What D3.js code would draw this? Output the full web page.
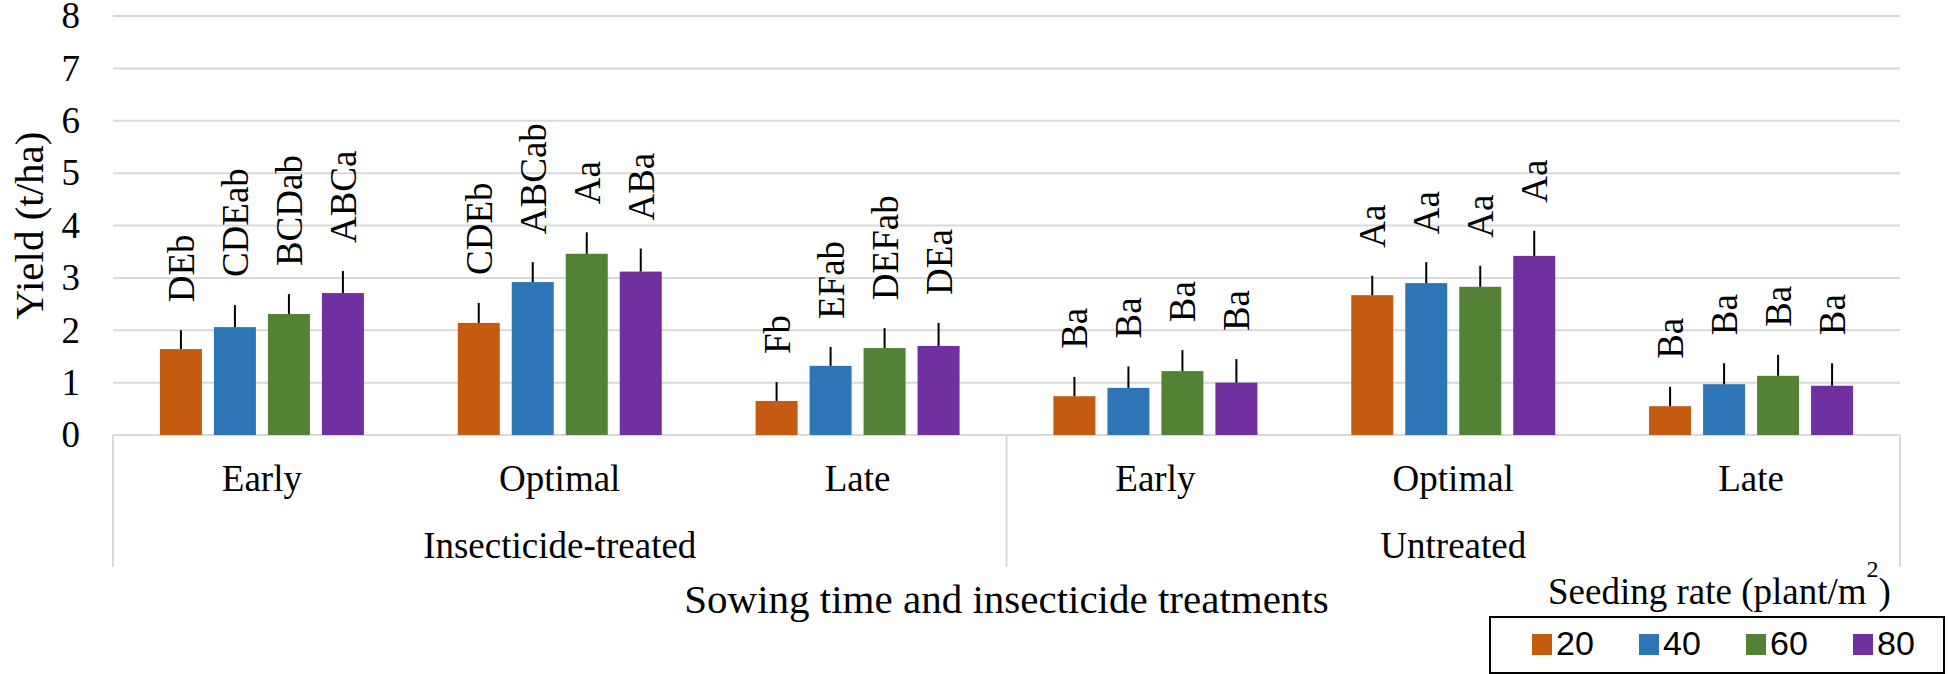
<!DOCTYPE html>
<html>
<head>
<meta charset="utf-8">
<script src="https://cdn.jsdelivr.net/npm/d3@7"></script>
<style>
  body { margin: 0; background: #fff; }
  text { font-family: "Liberation Serif", "Times New Roman", serif; fill: #000; }
</style>
</head>
<body>
<div id="chart"></div>
<script>
'use strict';

// categories: sowing time within insecticide treatment
const sowing = ["Early", "Optimal", "Late", "Early", "Optimal", "Late"];
const treatments = ["Insecticide-treated", "Untreated"];
const rates = ["20", "40", "60", "80"];
const yTicks = [0, 1, 2, 3, 4, 5, 6, 7, 8];

// mean yield (t/ha) per seeding rate, one value per category
const yield20 = [1.64, 2.14, 0.65, 0.74, 2.67, 0.55];
const yield40 = [2.06, 2.92, 1.32, 0.90, 2.90, 0.97];
const yield60 = [2.31, 3.46, 1.66, 1.22, 2.83, 1.13];
const yield80 = [2.71, 3.12, 1.70, 1.00, 3.42, 0.94];

// upper error bar length
const err20 = [0.36, 0.38, 0.36, 0.37, 0.37, 0.37];
const err40 = [0.42, 0.38, 0.36, 0.41, 0.40, 0.40];
const err60 = [0.38, 0.41, 0.38, 0.40, 0.40, 0.40];
const err80 = [0.42, 0.44, 0.44, 0.45, 0.48, 0.43];

// significance letters
const letters20 = ["DEb", "CDEb", "Fb", "Ba", "Aa", "Ba"];
const letters40 = ["CDEab", "ABCab", "EFab", "Ba", "Aa", "Ba"];
const letters60 = ["BCDab", "Aa", "DEFab", "Ba", "Aa", "Ba"];
const letters80 = ["ABCa", "ABa", "DEa", "Ba", "Aa", "Ba"];

const colors = ["#c55a11", "#2e75b6", "#548235", "#7030a0"];

const seriesValues = [yield20, yield40, yield60, yield80];
const seriesErr = [err20, err40, err60, err80];
const seriesLetters = [letters20, letters40, letters60, letters80];

const svgWidth = 1949, svgHeight = 674;
const plotLeft = 113, plotRight = 1900, plotTop = 16, plotBottom = 435;

const svg = d3.select("#chart").append("svg")
    .attr("width", svgWidth)
    .attr("height", svgHeight);

const catIds = sowing.map((d, i) => i);

const x0 = d3.scaleBand()
    .domain(catIds)
    .range([plotLeft, plotRight])
    .padding(0);

const x1 = d3.scaleBand()
    .domain(rates)
    .range([0, x0.bandwidth()])
    .paddingInner(0.222)
    .paddingOuter(0.869);

const y = d3.scaleLinear()
    .domain([0, 8])
    .range([plotBottom, plotTop]);

// gridlines
svg.append("g")
    .selectAll("line")
    .data(yTicks)
    .enter()
    .append("line")
    .attr("x1", plotLeft)
    .attr("x2", plotRight)
    .attr("y1", d => y(d))
    .attr("y2", d => y(d))
    .attr("stroke", "#d9d9d9")
    .attr("stroke-width", 2);

// y axis labels
const yAxis = svg.append("g")
    .attr("transform", "translate(" + plotLeft + ",0)")
    .call(d3.axisLeft(y).tickValues(yTicks).tickSize(0).tickPadding(33).tickFormat(d3.format("d")));
yAxis.select(".domain").remove();
yAxis.selectAll("text")
    .style("font-family", "Liberation Serif, serif")
    .style("font-size", "37px")
    .attr("fill", "#000");

svg.append("text")
    .attr("transform", "translate(43," + ((plotTop + plotBottom) / 2) + ") rotate(-90)")
    .style("text-anchor", "middle")
    .style("font-size", "41px")
    .text("Yield (t/ha)");

// bars, error bars, letters
const rows = [];
seriesValues.forEach((vals, s) => {
    vals.forEach((v, c) => {
        rows.push({ cat: c, rate: rates[s], value: v, err: seriesErr[s][c], label: seriesLetters[s][c], color: colors[s] });
    });
});

const cx = d => x0(d.cat) + x1(d.rate) + x1.bandwidth() / 2;

svg.append("g")
    .selectAll("rect")
    .data(rows)
    .enter()
    .append("rect")
    .attr("x", d => x0(d.cat) + x1(d.rate))
    .attr("y", d => y(d.value))
    .attr("width", x1.bandwidth())
    .attr("height", d => plotBottom - y(d.value))
    .attr("fill", d => d.color);

svg.append("g")
    .selectAll("line")
    .data(rows)
    .enter()
    .append("line")
    .attr("x1", cx)
    .attr("x2", cx)
    .attr("y1", d => y(d.value))
    .attr("y2", d => y(d.value + d.err))
    .attr("stroke", "#000")
    .attr("stroke-width", 2);

svg.append("g")
    .selectAll("text")
    .data(rows)
    .enter()
    .append("text")
    .attr("transform", d => "translate(" + cx(d) + "," + (y(d.value + d.err) - 28) + ") rotate(-90)")
    .attr("dy", "0.35em")
    .style("text-anchor", "start")
    .style("font-size", "37px")
    .text(d => d.label);

// category axis
const axisY2 = 567;
svg.append("g")
    .selectAll("line")
    .data([0, 3, 6])
    .enter()
    .append("line")
    .attr("x1", d => d < 6 ? x0(d) : plotRight)
    .attr("x2", d => d < 6 ? x0(d) : plotRight)
    .attr("y1", plotBottom)
    .attr("y2", axisY2)
    .attr("stroke", "#d9d9d9")
    .attr("stroke-width", 2);

svg.append("g")
    .selectAll("text")
    .data(catIds)
    .enter()
    .append("text")
    .attr("x", d => x0(d) + x0.bandwidth() / 2)
    .attr("y", 491)
    .style("text-anchor", "middle")
    .style("font-size", "37px")
    .text(d => sowing[d]);

svg.append("g")
    .selectAll("text")
    .data(treatments)
    .enter()
    .append("text")
    .attr("x", (d, i) => (x0(i * 3) + (i * 3 + 3 < 6 ? x0(i * 3 + 3) : plotRight)) / 2)
    .attr("y", 558)
    .style("text-anchor", "middle")
    .style("font-size", "37px")
    .text(d => d);

svg.append("text")
    .attr("x", (plotLeft + plotRight) / 2)
    .attr("y", 613)
    .style("text-anchor", "middle")
    .style("font-size", "41px")
    .text("Sowing time and insecticide treatments");

// legend
const legTitle = svg.append("text")
    .attr("x", 1548)
    .attr("y", 604)
    .style("font-size", "37px");
legTitle.append("tspan").text("Seeding rate (plant/m");
legTitle.append("tspan").attr("dy", -27).style("font-size", "24px").text("2");
legTitle.append("tspan").attr("dy", 27).text(")");

svg.append("rect")
    .attr("x", 1490)
    .attr("y", 617)
    .attr("width", 1944 - 1490)
    .attr("height", 673 - 617)
    .attr("fill", "none")
    .attr("stroke", "#000")
    .attr("stroke-width", 2);

const legX = d3.scalePoint()
    .domain(rates)
    .range([1532, 1853]);

const legItem = svg.append("g")
    .selectAll("g")
    .data(rates)
    .enter()
    .append("g")
    .attr("transform", d => "translate(" + legX(d) + ",634)");

legItem.append("rect")
    .attr("width", 20)
    .attr("height", 21)
    .attr("fill", (d, i) => colors[i]);

legItem.append("text")
    .attr("x", 24)
    .attr("y", 21)
    .style("font-family", "Liberation Sans, Arial, sans-serif")
    .style("font-size", "34px")
    .text(d => d);
</script>
</body>
</html>
